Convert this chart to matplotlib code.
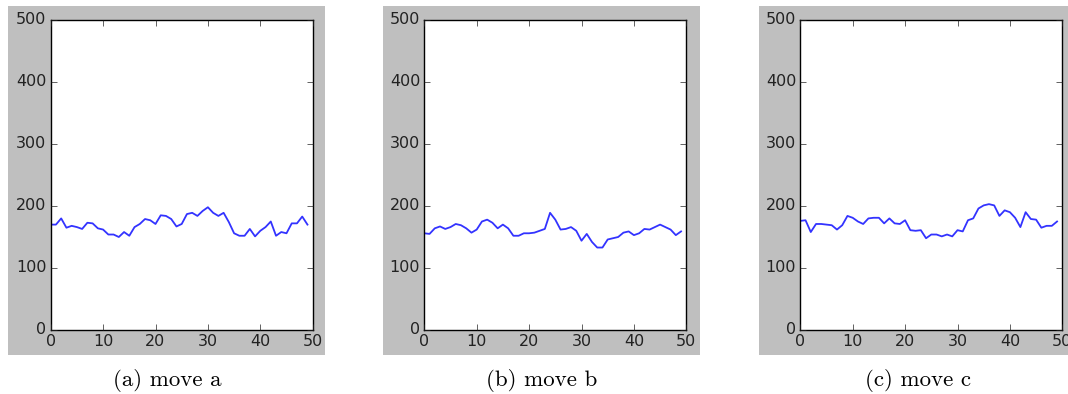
import numpy as np
import matplotlib.pyplot as plt
from matplotlib.patches import Rectangle

plt.style.use("classic")

steps = np.arange(50)

move_a = [170, 170, 180, 165, 168, 166, 163, 173, 172, 164,
          162, 154, 154, 150, 158, 152, 166, 171, 179, 177,
          171, 185, 184, 179, 167, 171, 187, 189, 184, 192,
          198, 189, 184, 189, 174, 156, 152, 152, 163, 151,
          160, 166, 175, 152, 158, 156, 172, 172, 183, 170]

move_b = [156, 155, 164, 167, 163, 166, 171, 169, 164, 157,
          162, 175, 178, 173, 164, 170, 164, 152, 152, 156,
          156, 157, 160, 163, 189, 178, 162, 163, 166, 160,
          144, 155, 142, 133, 133, 146, 148, 150, 157, 159,
          153, 156, 163, 162, 166, 170, 166, 162, 153, 159]

move_c = [176, 177, 158, 171, 171, 170, 169, 162, 169, 184,
          181, 175, 171, 180, 181, 181, 172, 180, 172, 171,
          177, 161, 160, 161, 148, 154, 154, 151, 154, 151,
          161, 159, 177, 180, 196, 201, 203, 201, 184, 193,
          190, 181, 166, 190, 179, 178, 165, 168, 168, 175]

series = [move_a, move_b, move_c]
captions = ["(a) move a", "(b) move b", "(c) move c"]

W, H = 1068, 394
fig = plt.figure(figsize=(W / 100, H / 100), dpi=100, facecolor="white")

panel_left = [8, 383, 759]
axes_left = [50.7, 424.3, 800.3]

for i in range(3):
    # grey figure background of each sub-figure
    fig.patches.append(Rectangle((panel_left[i] / W, (H - 355) / H), 317 / W, 349 / H,
                                 transform=fig.transFigure, facecolor="#bfbfbf",
                                 edgecolor="none", zorder=-10))
    ax = fig.add_axes([axes_left[i] / W, (H - 330) / H, 262 / W, 310 / H])
    ax.plot(steps, series[i], color="#3333ff", lw=1.3)
    ax.set_xlim(0, 50)
    ax.set_ylim(0, 500)
    ax.set_xticks([0, 10, 20, 30, 40, 50])
    ax.set_yticks([0, 100, 200, 300, 400, 500])
    ax.tick_params(labelsize=11.5, colors="#222222", pad=3)
    fig.text((panel_left[i] + 159) / W, (H - 380) / H, captions[i],
             family="cmr10", fontsize=16.5, ha="center", va="center")

fig.savefig("out.png", dpi=100, facecolor="white")
